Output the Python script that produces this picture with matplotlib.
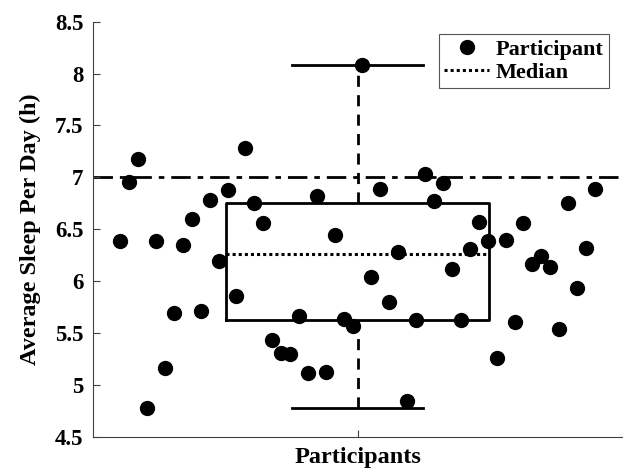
import matplotlib
matplotlib.use("Agg")
import matplotlib.pyplot as plt
import numpy as np

# Data
sleep_hours = [6.39, 6.96, 7.18, 4.78, 6.39, 5.17, 5.69, 6.35, 6.60, 5.71,
               6.78, 6.20, 6.88, 5.86, 7.28, 6.75, 6.56, 5.43, 5.31, 5.30,
               5.67, 5.12, 6.82, 5.13, 6.45, 5.64, 5.57, 8.08, 6.04, 6.89,
               5.80, 6.28, 4.85, 5.63, 7.03, 6.77, 6.95, 6.12, 5.63, 6.31,
               6.57, 6.39, 5.26, 6.40, 5.61, 6.56, 6.17, 6.24, 6.14, 5.54,
               6.75, 5.94, 6.32, 6.89]
participant_idx = list(range(1, len(sleep_hours) + 1))

# box statistics: low whisker, q1, median, q3, high whisker
box_stats = [4.78, 5.63, 6.26, 6.75, 8.08]
recommended = 7.0

yticks = [4.5, 5, 5.5, 6, 6.5, 7, 7.5, 8, 8.5]
ytick_labels = ["4.5", "5", "5.5", "6", "6.5", "7", "7.5", "8", "8.5"]

plt.rcParams['font.family'] = ['Liberation Serif', 'DejaVu Serif']
plt.rcParams['font.weight'] = 'bold'

fig = plt.figure(figsize=(6.24, 4.69), dpi=100)
ax = fig.add_axes([0.149, 0.068, 0.848, 0.886])

center = (participant_idx[0] + participant_idx[-1]) / 2
box_half = 14.7
cap_half = 7.35
lo, q1, med, q3, hi = box_stats

# reference line
ax.axhline(recommended, color='black', lw=2, linestyle=(0, (7, 2.5, 2, 2.5)), zorder=1)

# whiskers
ax.plot([center, center], [q3, hi], color='black', lw=2, linestyle=(0, (4, 3)), zorder=2)
ax.plot([center, center], [lo, q1], color='black', lw=2, linestyle=(0, (4, 3)), zorder=2)
ax.plot([center - cap_half, center + cap_half], [hi, hi], color='black', lw=2, zorder=2)
ax.plot([center - cap_half, center + cap_half], [lo, lo], color='black', lw=2, zorder=2)

# box
ax.plot([center - box_half, center + box_half, center + box_half, center - box_half, center - box_half],
        [q1, q1, q3, q3, q1], color='black', lw=2, zorder=2)

# median
ax.plot([center - box_half, center + box_half], [med, med], color='black', lw=2.2,
        linestyle=(0, (1, 1)), zorder=2, label='Median')

# participants
ax.plot(participant_idx, sleep_hours, 'o', color='black', markersize=10, zorder=3,
        label='Participant', linestyle='none')

ax.set_xlim(-2, 57)
ax.set_ylim(4.5, 8.5)
ax.set_yticks(yticks)
ax.set_yticklabels(ytick_labels)
ax.set_xticks([center])
ax.set_xticklabels([""])

for s in ['top', 'right']:
    ax.spines[s].set_visible(False)
for s in ['left', 'bottom']:
    ax.spines[s].set_color('#404040')
    ax.spines[s].set_linewidth(0.8)

ax.tick_params(axis='both', direction='in', length=5, width=0.8, color='#404040',
               labelsize=16.5, pad=7)
for lab in ax.get_yticklabels():
    lab.set_fontweight('bold')

ax.set_xlabel('Participants', fontsize=17.5, fontweight='bold', labelpad=0)
ax.set_ylabel('Average Sleep Per Day (h)', fontsize=17.5, fontweight='bold', labelpad=10)

handles, labels = ax.get_legend_handles_labels()
order = [1, 0]
leg = ax.legend([handles[i] for i in order], [labels[i] for i in order],
                loc='upper right', bbox_to_anchor=(0.975, 0.970),
                fancybox=False, framealpha=1, edgecolor='#555555',
                prop={'family': 'Liberation Serif', 'weight': 'bold', 'size': 16},
                handlelength=2.0, handletextpad=0.3, borderpad=0.25, labelspacing=0.1,
                borderaxespad=0)
leg.get_frame().set_linewidth(0.8)

fig.savefig('out.png', dpi=100)
